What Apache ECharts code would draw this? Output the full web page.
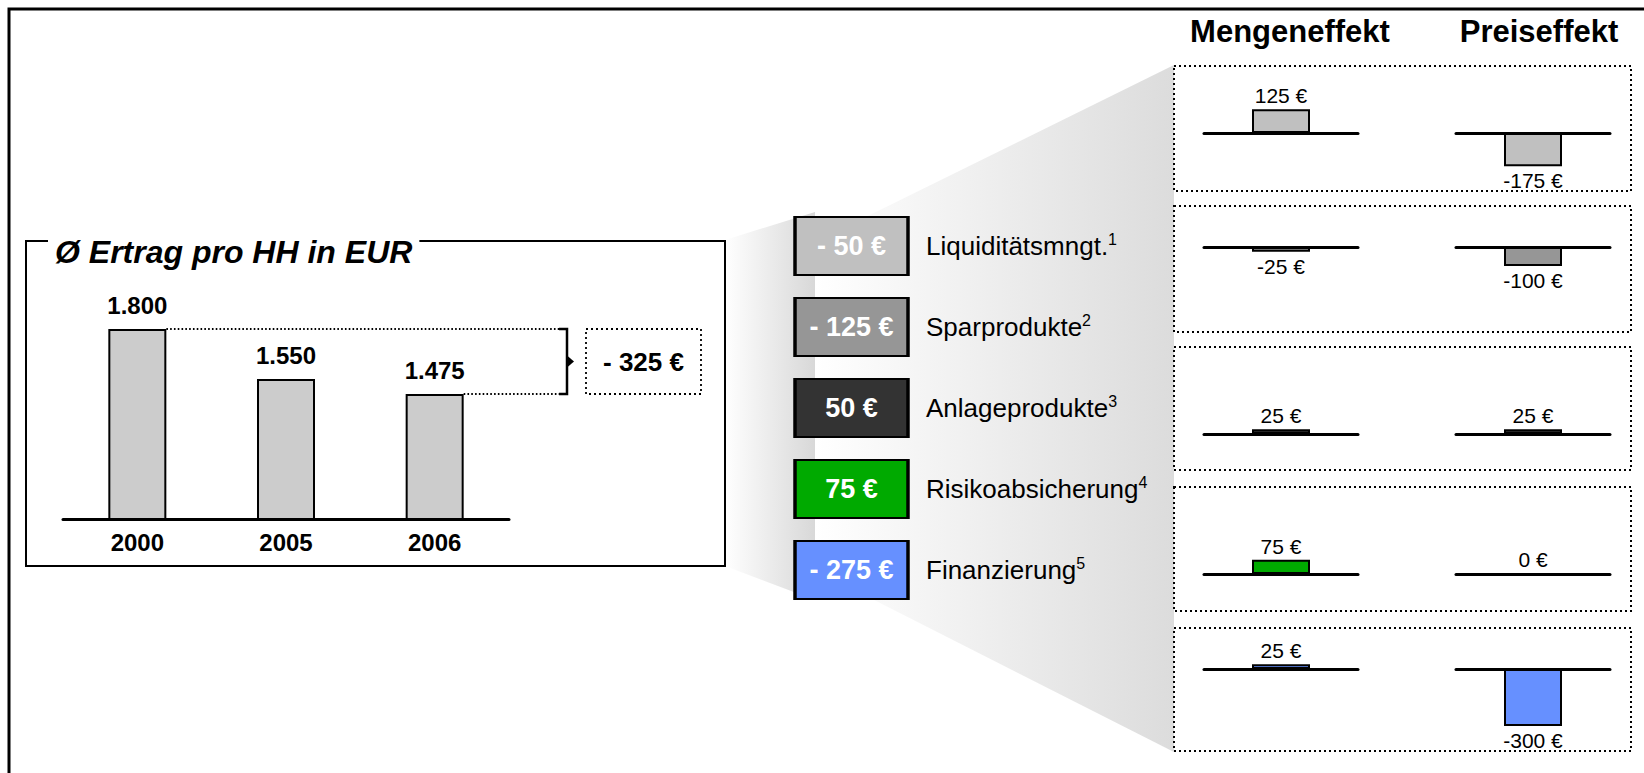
<!DOCTYPE html>
<html>
<head>
<meta charset="utf-8">
<script src="https://cdn.jsdelivr.net/npm/echarts@6/dist/echarts.min.js"></script>
<style>
  html, body { margin: 0; padding: 0; background: #fff; }
  #chart { width: 1644px; height: 773px; }
</style>
</head>
<body>
<div id="chart"></div>
<script>
// ---- data ----
const years = ['2000', '2005', '2006'];
const ertrag = [1800, 1550, 1475];
const products = ['Liquiditätsmngt.', 'Sparprodukte', 'Anlageprodukte', 'Risikoabsicherung', 'Finanzierung'];
const footnotes = ['1', '2', '3', '4', '5'];
const productTotals = [-50, -125, 50, 75, -275];
const mengeneffekt = [125, -25, 25, 75, 25];
const preiseffekt = [-175, -100, 25, 0, -300];
const effectHeaders = ['Mengeneffekt', 'Preiseffekt'];
const titleText = 'Ø Ertrag pro HH in EUR';

// ---- styling / layout ----
const FONT = '"Liberation Sans", Arial, Helvetica, sans-serif';
const productColors = ['#C0C0C0', '#969696', '#333333', '#00AA00', '#6690FF'];
const effectSeries = [mengeneffekt, preiseffekt];
const rowBaselines = [133, 247, 434, 574, 669];
const rowBoxes = [[66, 191], [206, 332], [347, 470], [487, 611], [628, 751]];
const colLefts = [1204, 1456];
const colHeaderX = [1290, 1539];
const MINI_W = 154;
const PX_PER_EUR = 0.19;     // shared scale for all effect mini charts
const HALF_RANGE = 350;      // € above / below zero in each mini chart

const thousands = v => String(v).replace(/\B(?=(\d{3})+(?!\d))/g, '.');
const badgeText = v => (v < 0 ? '- ' + Math.abs(v) : String(v)) + ' €';
const effectText = v => v + ' €';

const chart = echarts.init(document.getElementById('chart'), null, { renderer: 'svg' });

const grid = [
  { left: 63, top: 329, width: 446, height: 190 },     // Ertrag bars
  { left: 794, top: 205.5, width: 115, height: 405 }   // product badges
];
const xAxis = [
  {
    gridIndex: 0, type: 'category', data: years,
    axisLine: { lineStyle: { color: '#000', width: 3 } },
    axisTick: { show: false },
    axisLabel: { fontFamily: FONT, fontSize: 24, fontWeight: 'bold', color: '#000', margin: 11 }
  },
  { gridIndex: 1, type: 'value', min: -1, max: 1, show: false }
];
const yAxis = [
  { gridIndex: 0, type: 'value', min: 850, max: 1800, show: false },
  {
    gridIndex: 1, type: 'category', data: products, inverse: true, position: 'right', z: 3,
    axisLine: { show: false }, axisTick: { show: false }, splitLine: { show: false },
    axisLabel: {
      margin: 17,
      formatter: (val, idx) => '{n|' + val + '}{s|' + footnotes[idx] + '}',
      rich: {
        n: { fontFamily: FONT, fontSize: 26, color: '#000', lineHeight: 30 },
        s: { fontFamily: FONT, fontSize: 16, color: '#000', lineHeight: 20, verticalAlign: 'top' }
      }
    }
  }
];

const series = [
  {
    type: 'bar', xAxisIndex: 0, yAxisIndex: 0, data: ertrag, barWidth: 58, clip: true,
    itemStyle: { color: '#CCCCCC', borderColor: '#000', borderWidth: 2 },
    label: {
      show: true, position: 'top', distance: 12,
      fontFamily: FONT, fontSize: 24, fontWeight: 'bold', color: '#000',
      formatter: p => thousands(p.value)
    }
  },
  {
    type: 'scatter', xAxisIndex: 1, yAxisIndex: 1, symbol: 'rect', symbolSize: [113, 58],
    data: products.map((p, i) => ({ value: [0, i, productTotals[i]], itemStyle: { color: productColors[i] } })),
    itemStyle: { borderColor: '#000', borderWidth: 2.5, opacity: 1 },
    label: {
      show: true, position: 'inside', color: '#fff',
      fontFamily: FONT, fontSize: 27, fontWeight: 'bold',
      formatter: p => badgeText(p.value[2])
    }
  }
];

// effect mini charts: one grid per product row and effect column
products.forEach((prod, r) => {
  effectSeries.forEach((values, c) => {
    const idx = grid.length;
    grid.push({
      left: colLefts[c], width: MINI_W,
      top: rowBaselines[r] - HALF_RANGE * PX_PER_EUR,
      height: 2 * HALF_RANGE * PX_PER_EUR
    });
    xAxis.push({
      gridIndex: idx, type: 'category', data: [''], z: 3,
      axisLine: { onZero: true, lineStyle: { color: '#000', width: 3 } },
      axisTick: { show: false }, axisLabel: { show: false }
    });
    yAxis.push({ gridIndex: idx, type: 'value', min: -HALF_RANGE, max: HALF_RANGE, show: false });
    const v = values[r];
    series.push({
      type: 'bar', xAxisIndex: idx, yAxisIndex: idx, barWidth: 58, z: 4,
      data: [{ value: v, label: { position: v < 0 ? 'bottom' : 'top', distance: v < 0 ? 4 : 3 } }],
      itemStyle: { color: productColors[r], borderColor: '#000', borderWidth: 2 },
      label: {
        show: true, fontFamily: FONT, fontSize: 21, color: '#000',
        formatter: p => effectText(p.value)
      }
    });
  });
});

chart.setOption({ animation: false, grid, xAxis, yAxis, series });

// ---- decorations that depend on the Ertrag scale ----
const px = (cat, val) => chart.convertToPixel({ gridIndex: 0 }, [cat, val]);
const first = px(years[0], ertrag[0]);
const last = px(years[years.length - 1], ertrag[ertrag.length - 1]);
const halfBar = 29;
const yTop = first[1], yBot = last[1], yMid = (yTop + yBot) / 2;
const bracketX = 567;
const diff = ertrag[ertrag.length - 1] - ertrag[0];

const dotted = { stroke: '#000', lineWidth: 2, lineDash: [2, 3], fill: '#fff' };
const grad = (c0, c1) => ({
  type: 'linear', x: 0, y: 0, x2: 1, y2: 0,
  colorStops: [{ offset: 0, color: c0 }, { offset: 1, color: c1 }]
});

const elements = [
  // fan from the Ertrag box to the product badges
  { type: 'polygon', z: 0, shape: { points: [[725, 240], [815, 212], [815, 600], [725, 566]] },
    style: { fill: grad('#ffffff', '#d8d8d8') }, silent: true },
  // fan from the product badges to the effect panels
  { type: 'polygon', z: 0, shape: { points: [[815, 242], [1174, 65], [1174, 752], [815, 570]] },
    style: { fill: grad('#ffffff', '#dcdcdc') }, silent: true },
  // outer frame
  { type: 'rect', z: 1, shape: { x: 9, y: 9, width: 1700, height: 800 },
    style: { fill: 'none', stroke: '#000', lineWidth: 3 }, silent: true },
  // Ertrag box with its title
  { type: 'rect', z: 1, shape: { x: 26, y: 241, width: 699, height: 325 },
    style: { fill: 'none', stroke: '#000', lineWidth: 2 }, silent: true },
  { type: 'text', z: 2, x: 48, y: 252,
    style: { text: titleText, fontFamily: FONT, fontSize: 32, fontWeight: 'bold', fontStyle: 'italic',
             fill: '#000', backgroundColor: '#fff', padding: [0, 7], align: 'left', verticalAlign: 'middle' } },
  // dotted connectors from the first and last bar
  { type: 'line', z: 1, shape: { x1: first[0] + halfBar, y1: yTop, x2: bracketX - 8, y2: yTop },
    style: { stroke: '#000', lineWidth: 1.8, lineDash: [1.6, 2.2] }, silent: true },
  { type: 'line', z: 1, shape: { x1: last[0] + halfBar, y1: yBot, x2: bracketX - 8, y2: yBot },
    style: { stroke: '#000', lineWidth: 1.8, lineDash: [1.6, 2.2] }, silent: true },
  // bracket with arrow
  { type: 'polyline', z: 1, shape: { points: [[bracketX - 8, yTop], [bracketX, yTop], [bracketX, yBot], [bracketX - 8, yBot]] },
    style: { stroke: '#000', lineWidth: 2.5, fill: 'none' }, silent: true },
  { type: 'polygon', z: 1, shape: { points: [[bracketX, yMid - 6], [bracketX + 7, yMid], [bracketX, yMid + 6]] },
    style: { fill: '#000' }, silent: true },
  // difference box
  { type: 'rect', z: 1, shape: { x: 586, y: yTop, width: 115, height: yBot - yTop },
    style: Object.assign({}, dotted, { lineWidth: 1.8 }), silent: true },
  { type: 'text', z: 2, x: 643.5, y: yMid,
    style: { text: badgeText(diff), fontFamily: FONT, fontSize: 26, fontWeight: 'bold', fill: '#000',
             align: 'center', verticalAlign: 'middle' } }
];

// effect panels and column headers
rowBoxes.forEach(([t, b]) => {
  elements.push({ type: 'rect', z: 1, shape: { x: 1174, y: t, width: 457, height: b - t },
    style: dotted, silent: true });
});
effectHeaders.forEach((h, c) => {
  elements.push({ type: 'text', z: 2, x: colHeaderX[c], y: 31,
    style: { text: h, fontFamily: FONT, fontSize: 31, fontWeight: 'bold', fill: '#000',
             align: 'center', verticalAlign: 'middle' } });
});

chart.setOption({ graphic: { elements } });
</script>
</body>
</html>
